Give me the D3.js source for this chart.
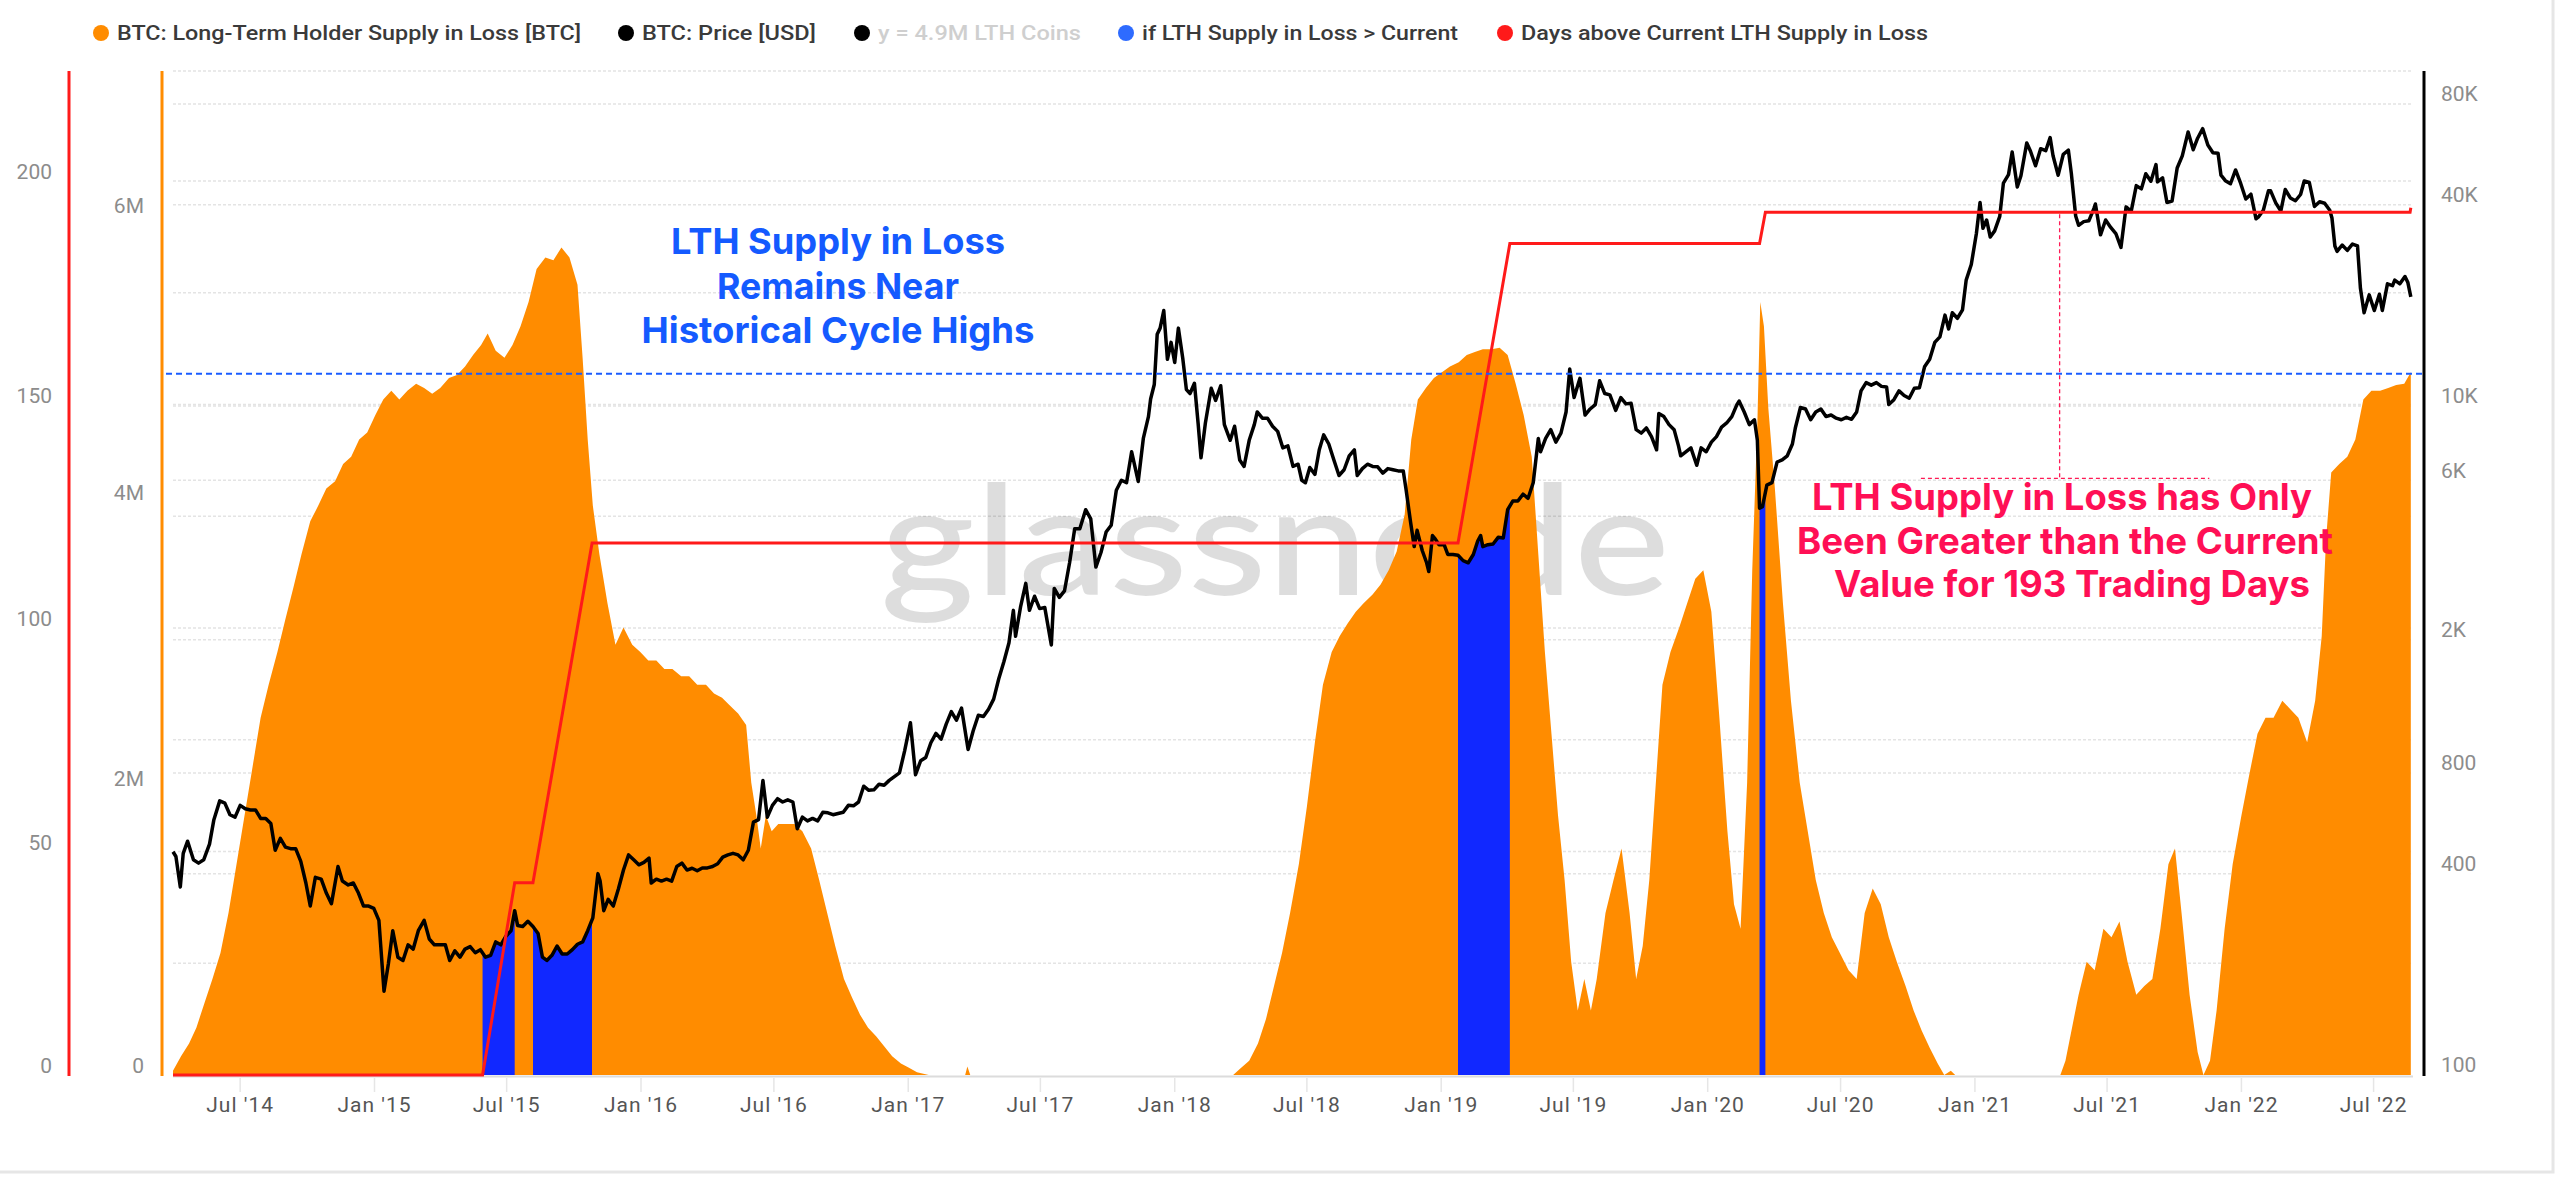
<!DOCTYPE html>
<html><head><meta charset="utf-8">
<script src="https://cdn.jsdelivr.net/npm/d3@7"></script>
<style>body{margin:0;background:#fff;}svg{display:block;}</style>
</head><body>
<svg id="c" width="2556" height="1179"></svg>
<script>
// ---------- DATA ----------
// LTH supply in loss, millions of BTC
const lthSeries = [
["2014-03-31",0.03],["2014-04-11",0.13],["2014-04-22",0.22],["2014-05-02",0.33],["2014-05-13",0.50],["2014-05-24",0.67],
["2014-06-04",0.85],["2014-06-15",1.13],["2014-06-26",1.47],["2014-07-07",1.81],["2014-07-18",2.15],["2014-07-29",2.49],
["2014-08-09",2.72],["2014-08-21",2.95],["2014-09-01",3.18],["2014-09-12",3.40],["2014-09-23",3.63],["2014-10-05",3.86],
["2014-10-16",3.97],["2014-10-27",4.09],["2014-11-08",4.14],["2014-11-19",4.26],["2014-11-30",4.31],["2014-12-11",4.43],
["2014-12-22",4.48],["2015-01-02",4.60],["2015-01-13",4.71],["2015-01-24",4.77],["2015-02-04",4.71],["2015-02-15",4.77],
["2015-02-27",4.82],["2015-03-10",4.79],["2015-03-21",4.75],["2015-04-01",4.79],["2015-04-13",4.86],["2015-04-24",4.88],
["2015-05-05",4.94],["2015-05-16",5.02],["2015-05-27",5.09],["2015-06-05",5.17],["2015-06-16",5.05],["2015-06-28",5.00],
["2015-07-09",5.09],["2015-07-20",5.22],["2015-07-31",5.39],["2015-08-11",5.62],["2015-08-23",5.70],["2015-09-03",5.68],
["2015-09-14",5.77],["2015-09-25",5.70],["2015-10-06",5.51],["2015-10-13",5.00],["2015-10-20",4.43],["2015-10-27",3.97],
["2015-11-05",3.63],["2015-11-16",3.29],["2015-11-27",3.00],["2015-12-08",3.12],["2015-12-20",3.00],["2015-12-31",2.95],
["2016-01-11",2.89],["2016-01-22",2.89],["2016-02-02",2.83],["2016-02-13",2.83],["2016-02-25",2.78],["2016-03-07",2.78],
["2016-03-18",2.72],["2016-03-30",2.72],["2016-04-10",2.66],["2016-04-21",2.63],["2016-05-01",2.58],["2016-05-13",2.52],
["2016-05-24",2.44],["2016-05-31",2.04],["2016-06-07",1.81],["2016-06-13",1.58],["2016-06-20",1.81],["2016-06-28",1.70],
["2016-07-07",1.75],["2016-07-18",1.75],["2016-07-29",1.75],["2016-08-09",1.70],["2016-08-21",1.58],["2016-09-01",1.36],
["2016-09-12",1.13],["2016-09-23",0.90],["2016-10-05",0.67],["2016-10-16",0.54],["2016-10-27",0.42],["2016-11-07",0.33],
["2016-11-18",0.27],["2016-11-29",0.20],["2016-12-10",0.13],["2016-12-22",0.08],["2017-01-02",0.05],["2017-01-13",0.02],
["2017-01-29",0],["2017-03-20",0],["2017-03-23",0.06],["2017-03-27",0],["2018-03-22",0],
["2018-04-02",0.05],["2018-04-13",0.10],["2018-04-25",0.22],["2018-05-06",0.39],["2018-05-17",0.62],["2018-05-28",0.85],
["2018-06-08",1.13],["2018-06-20",1.47],["2018-07-01",1.87],["2018-07-12",2.32],["2018-07-23",2.72],["2018-08-04",2.95],
["2018-08-15",3.06],["2018-08-26",3.15],["2018-09-06",3.23],["2018-09-17",3.29],["2018-09-29",3.35],["2018-10-10",3.42],
["2018-10-21",3.52],["2018-11-01",3.65],["2018-11-12",3.91],["2018-11-21",4.43],["2018-11-30",4.71],["2018-12-11",4.79],
["2018-12-22",4.86],["2019-01-02",4.90],["2019-01-13",4.94],["2019-01-25",4.97],["2019-02-05",5.02],["2019-02-16",5.04],
["2019-02-27",5.06],["2019-03-11",5.06],["2019-03-22",5.07],["2019-04-02",5.02],["2019-04-13",4.82],["2019-04-24",4.60],
["2019-05-05",4.31],["2019-05-14",3.63],["2019-05-23",2.95],["2019-06-01",2.38],["2019-06-10",1.81],["2019-06-19",1.36],
["2019-06-28",0.79],["2019-07-07",0.45],["2019-07-16",0.67],["2019-07-25",0.45],["2019-08-02",0.67],["2019-08-14",1.13],
["2019-08-25",1.36],["2019-09-05",1.58],["2019-09-16",1.13],["2019-09-25",0.67],["2019-10-04",0.90],["2019-10-13",1.36],
["2019-10-22",2.04],["2019-10-31",2.72],["2019-11-11",2.95],["2019-11-23",3.12],["2019-12-04",3.29],["2019-12-15",3.46],
["2019-12-26",3.52],["2020-01-06",3.23],["2020-01-17",2.49],["2020-01-28",1.70],["2020-02-06",1.19],["2020-02-15",1.02],
["2020-02-24",2.04],["2020-03-02",3.52],["2020-03-09",4.54],["2020-03-13",5.39],["2020-03-18",5.22],["2020-03-24",4.65],
["2020-04-02",4.09],["2020-04-13",3.29],["2020-04-24",2.61],["2020-05-06",2.04],["2020-05-17",1.70],["2020-05-28",1.36],
["2020-06-08",1.13],["2020-06-19",0.96],["2020-06-30",0.85],["2020-07-12",0.73],["2020-07-23",0.67],["2020-08-03",1.13],
["2020-08-14",1.30],["2020-08-25",1.19],["2020-09-05",0.96],["2020-09-16",0.79],["2020-09-28",0.62],["2020-10-09",0.45],
["2020-10-20",0.31],["2020-10-31",0.19],["2020-11-11",0.08],["2020-11-20",0],["2020-11-29",0.03],["2020-12-05",0],
["2021-04-28",0],["2021-05-05",0.10],["2021-05-14",0.33],["2021-05-23",0.56],["2021-06-03",0.79],["2021-06-14",0.73],
["2021-06-26",1.02],["2021-07-07",0.96],["2021-07-18",1.07],["2021-07-29",0.79],["2021-08-10",0.56],["2021-08-21",0.62],
["2021-09-01",0.67],["2021-09-12",1.02],["2021-09-23",1.47],["2021-10-02",1.58],["2021-10-11",1.13],["2021-10-22",0.56],
["2021-11-02",0.16],["2021-11-10",0],["2021-11-19",0.10],["2021-11-28",0.45],["2021-12-09",1.02],["2021-12-20",1.47],
["2022-01-01",1.81],["2022-01-12",2.10],["2022-01-23",2.38],["2022-02-03",2.49],["2022-02-14",2.49],["2022-02-26",2.61],
["2022-03-09",2.55],["2022-03-20",2.49],["2022-04-01",2.32],["2022-04-12",2.61],["2022-04-21",3.06],["2022-04-27",3.74],
["2022-05-04",4.20],["2022-05-15",4.26],["2022-05-26",4.31],["2022-06-06",4.43],["2022-06-17",4.71],["2022-06-28",4.77],
["2022-07-10",4.77],["2022-07-21",4.79],["2022-08-01",4.81],["2022-08-12",4.82],["2022-08-21",4.90]
];
// BTC price, USD
const priceSeries = [
["2014-03-31",465],["2014-04-04",450],["2014-04-10",365],["2014-04-14",460],["2014-04-20",500],["2014-04-28",440],
["2014-05-05",430],["2014-05-12",440],["2014-05-20",490],["2014-05-26",580],["2014-06-03",660],["2014-06-10",650],
["2014-06-17",600],["2014-06-24",590],["2014-07-01",640],["2014-07-08",625],["2014-07-15",620],["2014-07-22",620],
["2014-07-29",585],["2014-08-05",585],["2014-08-12",565],["2014-08-18",470],["2014-08-25",510],["2014-09-01",480],
["2014-09-08",475],["2014-09-15",475],["2014-09-22",435],["2014-09-29",375],["2014-10-05",320],["2014-10-12",390],
["2014-10-20",385],["2014-10-27",350],["2014-11-03",325],["2014-11-12",420],["2014-11-18",380],["2014-11-26",370],
["2014-12-03",375],["2014-12-10",350],["2014-12-17",320],["2014-12-24",320],["2014-12-31",315],["2015-01-07",290],
["2015-01-14",178],["2015-01-20",215],["2015-01-26",270],["2015-02-02",225],["2015-02-09",220],["2015-02-16",245],
["2015-02-23",238],["2015-03-02",270],["2015-03-10",290],["2015-03-17",255],["2015-03-24",245],["2015-04-01",245],
["2015-04-08",245],["2015-04-14",220],["2015-04-21",235],["2015-04-28",225],["2015-05-05",238],["2015-05-12",242],
["2015-05-19",232],["2015-05-26",237],["2015-06-02",225],["2015-06-09",228],["2015-06-16",250],["2015-06-23",245],
["2015-06-30",260],["2015-07-07",270],["2015-07-12",310],["2015-07-16",280],["2015-07-23",278],["2015-07-30",288],
["2015-08-06",278],["2015-08-13",265],["2015-08-19",225],["2015-08-25",220],["2015-09-01",228],["2015-09-08",243],
["2015-09-15",230],["2015-09-22",230],["2015-09-29",237],["2015-10-06",246],["2015-10-13",250],["2015-10-20",270],
["2015-10-27",295],["2015-11-03",400],["2015-11-06",380],["2015-11-11",310],["2015-11-17",335],["2015-11-24",320],
["2015-12-01",360],["2015-12-08",410],["2015-12-15",455],["2015-12-22",440],["2015-12-29",425],["2016-01-05",432],
["2016-01-12",445],["2016-01-15",375],["2016-01-22",385],["2016-01-29",380],["2016-02-05",385],["2016-02-12",380],
["2016-02-19",420],["2016-02-26",430],["2016-03-04",410],["2016-03-11",415],["2016-03-18",408],["2016-03-25",416],
["2016-04-01",416],["2016-04-08",420],["2016-04-15",428],["2016-04-22",448],["2016-04-29",455],["2016-05-06",460],
["2016-05-13",455],["2016-05-20",440],["2016-05-27",470],["2016-06-03",570],["2016-06-10",580],["2016-06-16",760],
["2016-06-22",590],["2016-06-29",640],["2016-07-06",670],["2016-07-13",655],["2016-07-20",665],["2016-07-27",655],
["2016-08-02",545],["2016-08-09",590],["2016-08-16",575],["2016-08-23",585],["2016-08-30",575],["2016-09-06",610],
["2016-09-13",608],["2016-09-20",600],["2016-09-27",605],["2016-10-04",610],["2016-10-11",640],["2016-10-18",638],
["2016-10-25",655],["2016-11-01",730],["2016-11-08",710],["2016-11-15",712],["2016-11-22",740],["2016-11-29",735],
["2016-12-06",760],["2016-12-13",780],["2016-12-20",800],["2016-12-27",930],["2017-01-04",1130],["2017-01-11",790],
["2017-01-18",870],["2017-01-25",890],["2017-02-01",985],["2017-02-08",1050],["2017-02-15",1010],["2017-02-22",1120],
["2017-03-01",1220],["2017-03-08",1150],["2017-03-15",1250],["2017-03-24",940],["2017-03-31",1070],["2017-04-07",1190],
["2017-04-14",1180],["2017-04-21",1240],["2017-04-28",1330],["2017-05-05",1530],["2017-05-12",1720],["2017-05-19",1960],
["2017-05-25",2450],["2017-05-28",2050],["2017-06-04",2520],["2017-06-11",2950],["2017-06-16",2450],["2017-06-23",2700],
["2017-06-30",2480],["2017-07-07",2500],["2017-07-16",1930],["2017-07-20",2850],["2017-07-27",2680],["2017-08-03",2800],
["2017-08-10",3400],["2017-08-17",4300],["2017-08-24",4300],["2017-09-01",4900],["2017-09-08",4600],["2017-09-15",3300],
["2017-09-22",3650],["2017-09-29",4200],["2017-10-06",4400],["2017-10-13",5600],["2017-10-20",6000],["2017-10-27",5900],
["2017-11-03",7300],["2017-11-12",5950],["2017-11-19",8000],["2017-11-26",9300],["2017-11-29",10500],["2017-12-04",11600],
["2017-12-08",16400],["2017-12-12",17100],["2017-12-17",19300],["2017-12-22",13800],["2017-12-27",15500],["2018-01-01",13500],
["2018-01-06",17100],["2018-01-12",13900],["2018-01-17",11200],["2018-01-22",10900],["2018-01-28",11700],["2018-02-02",8900],
["2018-02-06",7000],["2018-02-12",8900],["2018-02-20",11300],["2018-02-26",10400],["2018-03-05",11500],["2018-03-10",8800],
["2018-03-18",7900],["2018-03-24",8700],["2018-03-31",6900],["2018-04-06",6600],["2018-04-13",7900],["2018-04-20",8800],
["2018-04-24",9600],["2018-05-01",9200],["2018-05-08",9200],["2018-05-15",8700],["2018-05-22",8400],["2018-05-29",7500],
["2018-06-05",7600],["2018-06-12",6600],["2018-06-19",6700],["2018-06-24",6000],["2018-06-29",5900],["2018-07-05",6550],
["2018-07-12",6250],["2018-07-18",7400],["2018-07-24",8200],["2018-07-31",7700],["2018-08-07",6900],["2018-08-14",6200],
["2018-08-21",6450],["2018-08-28",7100],["2018-09-04",7400],["2018-09-08",6200],["2018-09-15",6500],["2018-09-22",6700],
["2018-09-29",6600],["2018-10-06",6580],["2018-10-13",6300],["2018-10-20",6500],["2018-10-27",6450],["2018-11-03",6400],
["2018-11-10",6400],["2018-11-14",5600],["2018-11-20",4500],["2018-11-25",3800],["2018-11-29",4250],["2018-12-06",3700],
["2018-12-12",3400],["2018-12-15",3200],["2018-12-20",4100],["2018-12-24",4000],["2018-12-29",3850],["2019-01-05",3850],
["2019-01-10",3600],["2019-01-17",3600],["2019-01-24",3580],["2019-01-31",3450],["2019-02-07",3400],["2019-02-14",3600],
["2019-02-20",3950],["2019-02-24",4100],["2019-02-27",3800],["2019-03-06",3850],["2019-03-13",3870],["2019-03-20",4050],
["2019-03-27",4030],["2019-04-02",4900],["2019-04-09",5200],["2019-04-16",5200],["2019-04-23",5450],["2019-04-30",5300],
["2019-05-07",5900],["2019-05-14",8000],["2019-05-17",7300],["2019-05-24",8000],["2019-05-31",8500],["2019-06-07",7800],
["2019-06-14",8300],["2019-06-21",9600],["2019-06-26",12900],["2019-07-02",10600],["2019-07-10",12100],["2019-07-17",9400],
["2019-07-24",9800],["2019-07-31",10100],["2019-08-06",11900],["2019-08-13",10900],["2019-08-20",10800],["2019-08-28",9700],
["2019-09-04",10600],["2019-09-11",10150],["2019-09-18",10200],["2019-09-25",8500],["2019-10-02",8300],["2019-10-09",8600],
["2019-10-16",8100],["2019-10-23",7400],["2019-10-26",9500],["2019-11-02",9300],["2019-11-09",8800],["2019-11-16",8500],
["2019-11-22",7600],["2019-11-25",7100],["2019-12-02",7300],["2019-12-09",7500],["2019-12-17",6650],["2019-12-23",7500],
["2019-12-30",7300],["2020-01-06",7800],["2020-01-13",8100],["2020-01-20",8650],["2020-01-27",8900],["2020-02-03",9300],
["2020-02-10",10100],["2020-02-13",10350],["2020-02-20",9600],["2020-02-27",8800],["2020-03-05",9100],["2020-03-09",7900],
["2020-03-12",4950],["2020-03-16",5000],["2020-03-22",5800],["2020-03-29",5900],["2020-04-05",6800],["2020-04-12",6900],
["2020-04-19",7100],["2020-04-26",7700],["2020-04-30",8600],["2020-05-07",9900],["2020-05-14",9800],["2020-05-21",9100],
["2020-05-28",9600],["2020-06-04",9800],["2020-06-11",9300],["2020-06-18",9400],["2020-06-25",9200],["2020-07-02",9100],
["2020-07-09",9250],["2020-07-16",9130],["2020-07-23",9600],["2020-07-29",11100],["2020-08-05",11750],["2020-08-12",11550],
["2020-08-19",11750],["2020-08-26",11450],["2020-09-02",11400],["2020-09-05",10100],["2020-09-12",10450],["2020-09-19",11100],
["2020-09-26",10750],["2020-10-03",10550],["2020-10-10",11300],["2020-10-17",11350],["2020-10-24",13100],["2020-10-31",13800],
["2020-11-07",15500],["2020-11-14",16100],["2020-11-21",18700],["2020-11-26",17000],["2020-12-01",19000],["2020-12-08",18300],
["2020-12-15",19400],["2020-12-20",23800],["2020-12-27",26500],["2021-01-03",32800],["2021-01-08",40600],["2021-01-12",34000],
["2021-01-17",36000],["2021-01-22",32000],["2021-01-28",33400],["2021-02-04",36900],["2021-02-09",46400],["2021-02-16",49200],
["2021-02-21",57500],["2021-02-28",45200],["2021-03-05",48800],["2021-03-13",61200],["2021-03-18",57900],["2021-03-25",52300],
["2021-04-01",58800],["2021-04-08",58000],["2021-04-14",63500],["2021-04-18",56000],["2021-04-25",49000],["2021-05-02",56600],
["2021-05-09",58200],["2021-05-13",49700],["2021-05-19",37000],["2021-05-23",34700],["2021-05-30",35600],["2021-06-06",35800],
["2021-06-13",39000],["2021-06-15",40200],["2021-06-22",32500],["2021-06-29",36000],["2021-07-06",34200],["2021-07-13",32800],
["2021-07-20",29800],["2021-07-27",39400],["2021-08-03",38200],["2021-08-10",45600],["2021-08-17",44600],["2021-08-23",49500],
["2021-08-30",47000],["2021-09-06",52700],["2021-09-08",46800],["2021-09-15",48100],["2021-09-21",40600],["2021-09-28",41000],
["2021-10-05",51500],["2021-10-12",56000],["2021-10-20",66000],["2021-10-27",58400],["2021-11-02",63200],["2021-11-09",67500],
["2021-11-16",60300],["2021-11-23",57200],["2021-11-30",57000],["2021-12-04",49000],["2021-12-10",47200],["2021-12-17",46200],
["2021-12-24",50800],["2021-12-31",46300],["2022-01-07",41600],["2022-01-14",43000],["2022-01-21",36300],["2022-01-24",36700],
["2022-01-31",38500],["2022-02-07",44000],["2022-02-10",44000],["2022-02-17",40500],["2022-02-24",38300],["2022-03-02",44400],
["2022-03-09",41900],["2022-03-16",41100],["2022-03-23",42900],["2022-03-28",47100],["2022-04-04",46600],["2022-04-11",39500],
["2022-04-18",40800],["2022-04-25",40400],["2022-05-02",38500],["2022-05-05",36500],["2022-05-09",30100],["2022-05-12",29000],
["2022-05-19",30300],["2022-05-26",29200],["2022-06-02",30500],["2022-06-09",30100],["2022-06-13",22500],["2022-06-18",19000],
["2022-06-25",21500],["2022-07-02",19300],["2022-07-09",21600],["2022-07-13",19300],["2022-07-20",23200],["2022-07-27",22900],
["2022-07-30",23800],["2022-08-06",23200],["2022-08-13",24400],["2022-08-17",23400],["2022-08-21",21200]
];
// cumulative days with LTH supply in loss above the current value
const daysSeries = [
["2014-03-31",0],["2015-05-29",0],["2015-07-12",43],["2015-08-06",43],["2015-10-26",119],
["2019-01-24",119],["2019-04-05",186],["2020-03-12",186],["2020-03-20",193],["2022-08-20",193],["2022-08-21",194]
];
// periods where LTH supply in loss > current
const blueStarts = ["2015-05-29","2015-08-06","2019-01-24","2020-03-12"];
const blueEnds   = ["2015-07-12","2015-10-26","2019-04-05","2020-03-20"];
const currentLoss = 4.89; // M BTC

const priceTicks = [100,400,800,2000,6000,10000,40000,80000];
const priceTickLabels = ["100","400","800","2K","6K","10K","40K","80K"];
const lthTicks = [0,2,4,6];
const lthTickLabels = ["0","2M","4M","6M"];
const dayTicks = [0,50,100,150,200];
const dayGrid = [25,50,75,100,125,150,175,200];

const legendLabels = ["BTC: Long-Term Holder Supply in Loss [BTC]","BTC: Price [USD]","y = 4.9M LTH Coins","if LTH Supply in Loss > Current","Days above Current LTH Supply in Loss"];
const legendColors = ["#ff8c00","#000000","#000000","#2e6bff","#ff1a1a"];
const legendTextColors = ["#3a3a3a","#3a3a3a","#cfcfcf","#3a3a3a","#3a3a3a"];

const blueNote = ["LTH Supply in Loss","Remains Near","Historical Cycle Highs"];
const redNote = ["LTH Supply in Loss has Only","Been Greater than the Current","Value for 193 Trading Days"];

// ---------- CHART ----------
const parse = d3.timeParse("%Y-%m-%d");
const svg = d3.select("#c");
const L = 173, R = 2413, T = 71, B = 1075;

const x = d3.scaleTime().domain([parse("2014-03-31"), parse("2022-08-24")]).range([L, R]);
const yL = d3.scaleLinear().domain([0, 7]).range([B, T]);
const yD = d3.scaleLinear().domain([0, 224.6]).range([B, T]);
const yP = d3.scaleLog().domain([100, 100400]).range([B, T]);

const lth = lthSeries.map(d => ({date: parse(d[0]), v: d[1]}));
const price = priceSeries.map(d => ({date: parse(d[0]), v: d[1]}));
const days = daysSeries.map(d => ({date: parse(d[0]), v: d[1]}));

// card border
svg.append("rect").attr("x", -5).attr("y", -5).attr("width", 2558).attr("height", 1177)
  .attr("fill", "none").attr("stroke", "#e6e6e6").attr("stroke-width", 3);

// gridlines
const gridG = svg.append("g").attr("stroke", "#e4e4e4").attr("stroke-width", 1.5).attr("stroke-dasharray", "3,2");
gridG.selectAll(".gp").data(priceTicks.slice(1)).join("line")
  .attr("x1", L).attr("x2", R).attr("y1", d => yP(d)).attr("y2", d => yP(d));
gridG.selectAll(".gd").data(dayGrid).join("line").attr("class","gd")
  .attr("x1", L).attr("x2", R).attr("y1", d => yD(d)).attr("y2", d => yD(d));
gridG.append("line").attr("x1", L).attr("x2", R).attr("y1", T).attr("y2", T);

// watermark
svg.append("text").attr("x", 880).attr("y", 595).attr("textLength", 790).attr("lengthAdjust", "spacingAndGlyphs")
  .style("font-family", "Lato, 'Open Sans', sans-serif").style("font-size", "152px").style("font-weight", 500)
  .attr("fill", "#000").attr("opacity", 0.13).text("glassnode");

// orange area
svg.append("path").datum(lth)
  .attr("d", d3.area().x(d => x(d.date)).y0(yL(0)).y1(d => yL(d.v)))
  .attr("fill", "#ff8c00");

// blue areas (price under LTH>current periods)
const defs = svg.append("defs");
blueStarts.forEach((s, i) => {
  const x0 = x(parse(s)), x1 = x(parse(blueEnds[i]));
  defs.append("clipPath").attr("id", "bc" + i).append("rect")
    .attr("x", x0).attr("y", T).attr("width", x1 - x0).attr("height", B - T);
  svg.append("path").datum(price)
    .attr("d", d3.area().x(d => x(d.date)).y0(yP(100)).y1(d => yP(d.v)))
    .attr("fill", "#1128ff").attr("clip-path", `url(#bc${i})`);
});

// baseline
svg.append("line").attr("x1", L).attr("x2", R).attr("y1", B + 1.5).attr("y2", B + 1.5)
  .attr("stroke", "#dcdcdc").attr("stroke-width", 2);

// price line
svg.append("path").datum(price)
  .attr("d", d3.line().x(d => x(d.date)).y(d => yP(d.v)))
  .attr("fill", "none").attr("stroke", "#000").attr("stroke-width", 3.5).attr("stroke-linejoin", "round");

// days line
svg.append("path").datum(days)
  .attr("d", d3.line().x(d => x(d.date)).y(d => yD(d.v)))
  .attr("fill", "none").attr("stroke", "#ff1a1a").attr("stroke-width", 3);

// current level dashed line
svg.append("line").attr("x1", 166).attr("x2", 2424).attr("y1", yL(currentLoss)).attr("y2", yL(currentLoss))
  .attr("stroke", "#1a5cff").attr("stroke-width", 2).attr("stroke-dasharray", "6,4");

// annotation bracket (pink dashed)
const annDate = parse("2021-04-27");
const annG = svg.append("g").attr("stroke", "#ff1a55").attr("stroke-width", 1.3).attr("stroke-dasharray", "4,3");
annG.append("line").attr("x1", x(annDate)).attr("x2", x(annDate)).attr("y1", yD(193) + 2).attr("y2", yL(4.16));
annG.append("line").attr("x1", x(parse("2020-10-19"))).attr("x2", x(parse("2021-11-18"))).attr("y1", yL(4.16)).attr("y2", yL(4.16));

// axes lines
svg.append("line").attr("x1", 69).attr("x2", 69).attr("y1", T).attr("y2", B + 1).attr("stroke", "#ff1a1a").attr("stroke-width", 3);
svg.append("line").attr("x1", 162).attr("x2", 162).attr("y1", T).attr("y2", B + 1).attr("stroke", "#ff8c00").attr("stroke-width", 3);
svg.append("line").attr("x1", 2424).attr("x2", 2424).attr("y1", T).attr("y2", B + 1).attr("stroke", "#000").attr("stroke-width", 3);

const tickFont = g => g.style("font-family", "Roboto, sans-serif").style("font-size", "21px").attr("fill", "#8c8c8c");
svg.append("g").call(tickFont).selectAll("text").data(dayTicks).join("text")
  .attr("x", 52).attr("y", d => yD(d) - 9).attr("dy", "0.35em").attr("text-anchor", "end").text(d => d);
svg.append("g").call(tickFont).selectAll("text").data(lthTicks).join("text")
  .attr("x", 144).attr("y", d => yL(d) - 9).attr("dy", "0.35em").attr("text-anchor", "end").text((d, i) => lthTickLabels[i]);
svg.append("g").call(tickFont).selectAll("text").data(priceTicks).join("text")
  .attr("x", 2441).attr("y", d => yP(d) - 10).attr("dy", "0.35em").text((d, i) => priceTickLabels[i]);

// x axis
const xt = x.ticks(d3.timeMonth.every(6)).filter(d => d >= parse("2014-06-01"));
const fmt = d3.timeFormat("%b '%y");
const xg = svg.append("g");
xg.selectAll("line").data(xt).join("line")
  .attr("x1", d => x(d)).attr("x2", d => x(d)).attr("y1", B + 3).attr("y2", B + 17)
  .attr("stroke", "#e6e6e6").attr("stroke-width", 1.5);
xg.selectAll("text").data(xt).join("text")
  .attr("x", d => x(d)).attr("y", 1105).attr("dy", "0.35em").attr("text-anchor", "middle")
  .style("font-family", "Roboto, sans-serif").style("font-size", "21px").style("letter-spacing", "1px")
  .attr("fill", "#555").text(d => fmt(d));

// legend
const legX = [101, 626, 862, 1126, 1505];
const legW = [464, 174, 203, 316, 407];
const lg = svg.append("g");
legendLabels.forEach((t, i) => {
  lg.append("circle").attr("cx", legX[i]).attr("cy", 33).attr("r", 8).attr("fill", legendColors[i]);
  lg.append("text").attr("x", legX[i] + 16).attr("y", 33).attr("dy", "0.35em")
    .attr("textLength", legW[i]).attr("lengthAdjust", "spacingAndGlyphs")
    .style("font-family", "Roboto, sans-serif").style("font-size", "20px").style("font-weight", 500)
    .attr("fill", legendTextColors[i]).text(t);
});

// annotations
const blueY = [254, 299, 343], blueW = [334, 242, 393];
blueNote.forEach((t, i) => {
  svg.append("text").attr("x", 838).attr("y", blueY[i]).attr("text-anchor", "middle")
    .attr("textLength", blueW[i]).attr("lengthAdjust", "spacingAndGlyphs")
    .style("font-family", "Inter, sans-serif").style("font-size", "36px").style("font-weight", 700)
    .attr("fill", "#145aff").text(t);
});
const redY = [510, 554, 597], redX = [2062, 2065, 2072], redW = [500, 536, 476];
redNote.forEach((t, i) => {
  svg.append("text").attr("x", redX[i]).attr("y", redY[i]).attr("text-anchor", "middle")
    .attr("textLength", redW[i]).attr("lengthAdjust", "spacingAndGlyphs")
    .style("font-family", "Inter, sans-serif").style("font-size", "37px").style("font-weight", 700)
    .attr("fill", "#ff0f55").text(t);
});
</script>
</body></html>
